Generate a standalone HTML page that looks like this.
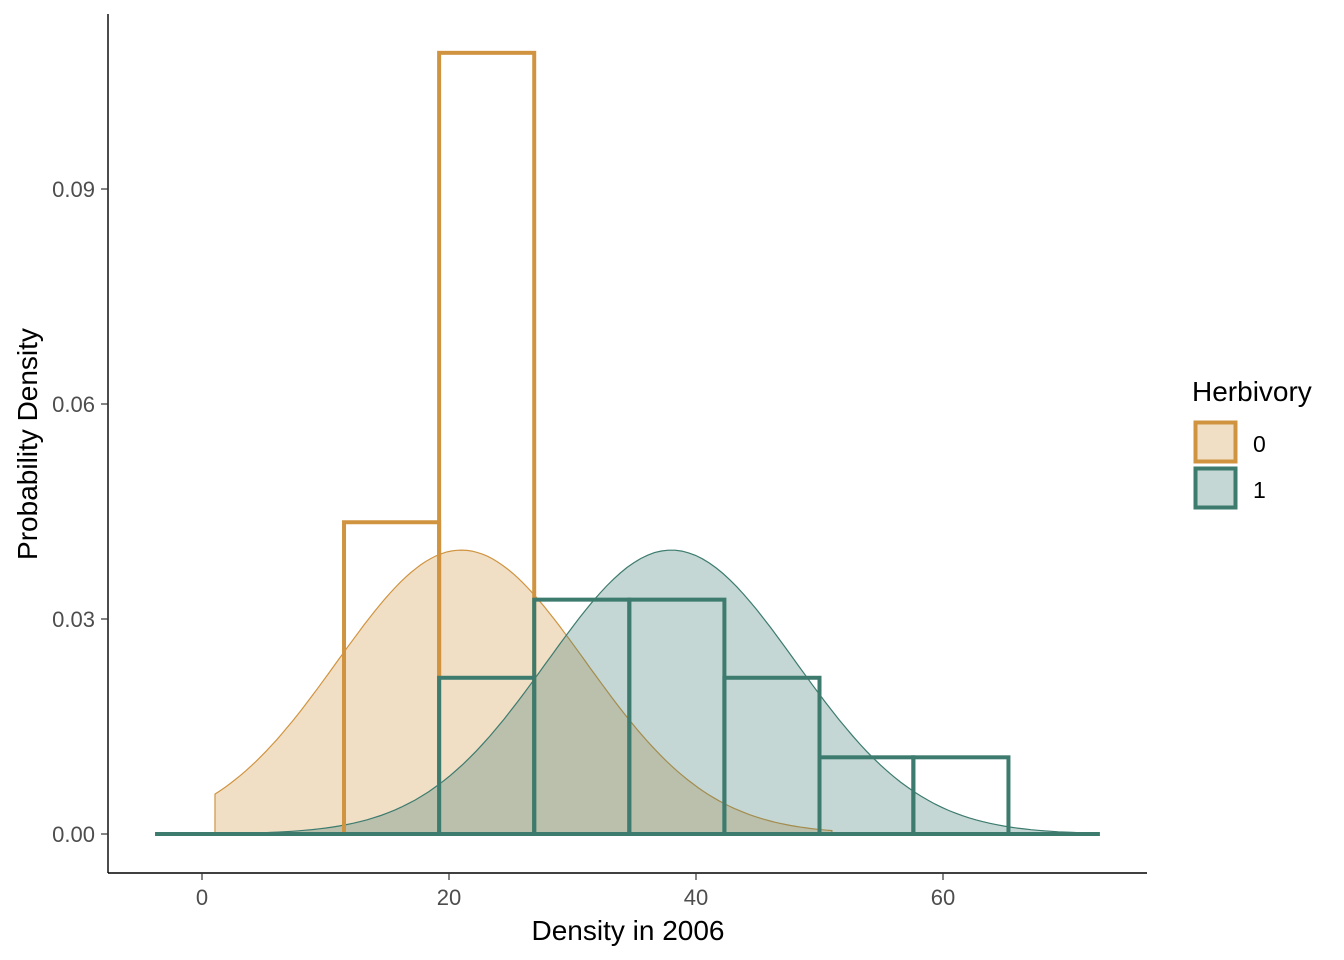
<!DOCTYPE html>
<html><head><meta charset="utf-8"><style>
body{margin:0;background:#fff}
svg{display:block;font-family:"Liberation Sans",Arial,sans-serif}
</style></head><body>
<svg id="chart" width="1344" height="960" viewBox="0 0 1344 960">
<g id="plot"></g>
<line x1="108" y1="14" x2="108" y2="873" stroke="#000" stroke-width="1.4"/>
<line x1="108" y1="873" x2="1147" y2="873" stroke="#000" stroke-width="1.4"/>
<g id="axes"></g>
<text x="628" y="940" font-size="28" text-anchor="middle" fill="#000">Density in 2006</text>
<text transform="translate(37,444) rotate(-90)" font-size="28" text-anchor="middle" fill="#000">Probability Density</text>
<g>
<text x="1192" y="401" font-size="28" fill="#000">Herbivory</text>
<rect x="1195.5" y="422.5" width="40" height="39" fill="rgba(208,148,64,0.3)" stroke="#D09440" stroke-width="4"/>
<text x="1253" y="452" font-size="23" fill="#000">0</text>
<rect x="1195.5" y="468.5" width="40" height="39" fill="rgba(61,123,111,0.3)" stroke="#3D7B6F" stroke-width="4"/>
<text x="1253" y="498" font-size="23" fill="#000">1</text>
</g>
</svg>
<script>
const groups = ['0','1'];
const colors = ['#D09440','#3D7B6F'];
const fills = ['rgba(208,148,64,0.3)','rgba(61,123,111,0.3)'];
const binEdges = [11.5,19.2,26.9,34.6,42.3,50.0,57.6,65.3];
const hist0 = [0.0435,0.109,0,0,0,0,0];
const hist1 = [0,0.0218,0.0327,0.0327,0.0218,0.0107,0.0107];
const histRange = [-3.8,72.7];
const densMean = [21.0,38.0];
const densSd = [10.07,10.07];
const densFrom = [1.05,4.5];
const densTo = [51,71];
const xTicks = [0,20,40,60];
const yTicks = [0,0.03,0.06,0.09];
const yTickLabels = ['0.00','0.03','0.06','0.09'];

const xs = v => 202 + v*12.35;
const ys = v => 834 - v*7166.7;
const NS='http://www.w3.org/2000/svg';
const plot=document.getElementById('plot');
const axes=document.getElementById('axes');
function mk(tag,attrs,parent){const e=document.createElementNS(NS,tag);for(const k in attrs)e.setAttribute(k,attrs[k]);parent.appendChild(e);return e;}

for(let g=0;g<2;g++){
  let pts=[];
  const n=120;
  for(let i=0;i<=n;i++){
    const x=densFrom[g]+(densTo[g]-densFrom[g])*i/n;
    const z=(x-densMean[g])/densSd[g];
    const y=Math.exp(-0.5*z*z)/(densSd[g]*Math.sqrt(2*Math.PI));
    pts.push(xs(x).toFixed(1)+','+ys(y).toFixed(1));
  }
  const d='M'+xs(densFrom[g])+','+ys(0)+' L'+pts.join(' L')+' L'+xs(densTo[g])+','+ys(0)+' Z';
  const p=mk('path',{d:d,fill:fills[g],stroke:colors[g],'stroke-width':1.2},plot);
  
  
}
[hist0,hist1].forEach((h,g)=>{
  const base=mk('line',{x1:xs(histRange[0]),x2:xs(histRange[1]),y1:ys(0),y2:ys(0),stroke:colors[g],'stroke-width':4},plot);
  
  
  h.forEach((v,i)=>{
    if(v<=0)return;
    const x0=xs(binEdges[i]),x1=xs(binEdges[i+1]);
    const r=mk('rect',{x:x0,y:ys(v),width:x1-x0,height:ys(0)-ys(v),fill:'none',stroke:colors[g],'stroke-width':4},plot);
    
    
  });
});
xTicks.forEach(t=>{
  const l=mk('line',{x1:xs(t),x2:xs(t),y1:873,y2:880,stroke:'#333','stroke-width':1.2},axes);
  
  
  const tx=mk('text',{x:xs(t),y:905,'font-size':22,'text-anchor':'middle',fill:'#4D4D4D'},axes);
  tx.textContent=t;
  
  
});
yTicks.forEach((t,i)=>{
  const l=mk('line',{x1:101,x2:108,y1:ys(t),y2:ys(t),stroke:'#333','stroke-width':1.2},axes);
  
  
  const tx=mk('text',{x:95,y:ys(t)+8,'font-size':22,'text-anchor':'end',fill:'#4D4D4D'},axes);
  tx.textContent=yTickLabels[i];
  
  
});
</script>
</body></html>
